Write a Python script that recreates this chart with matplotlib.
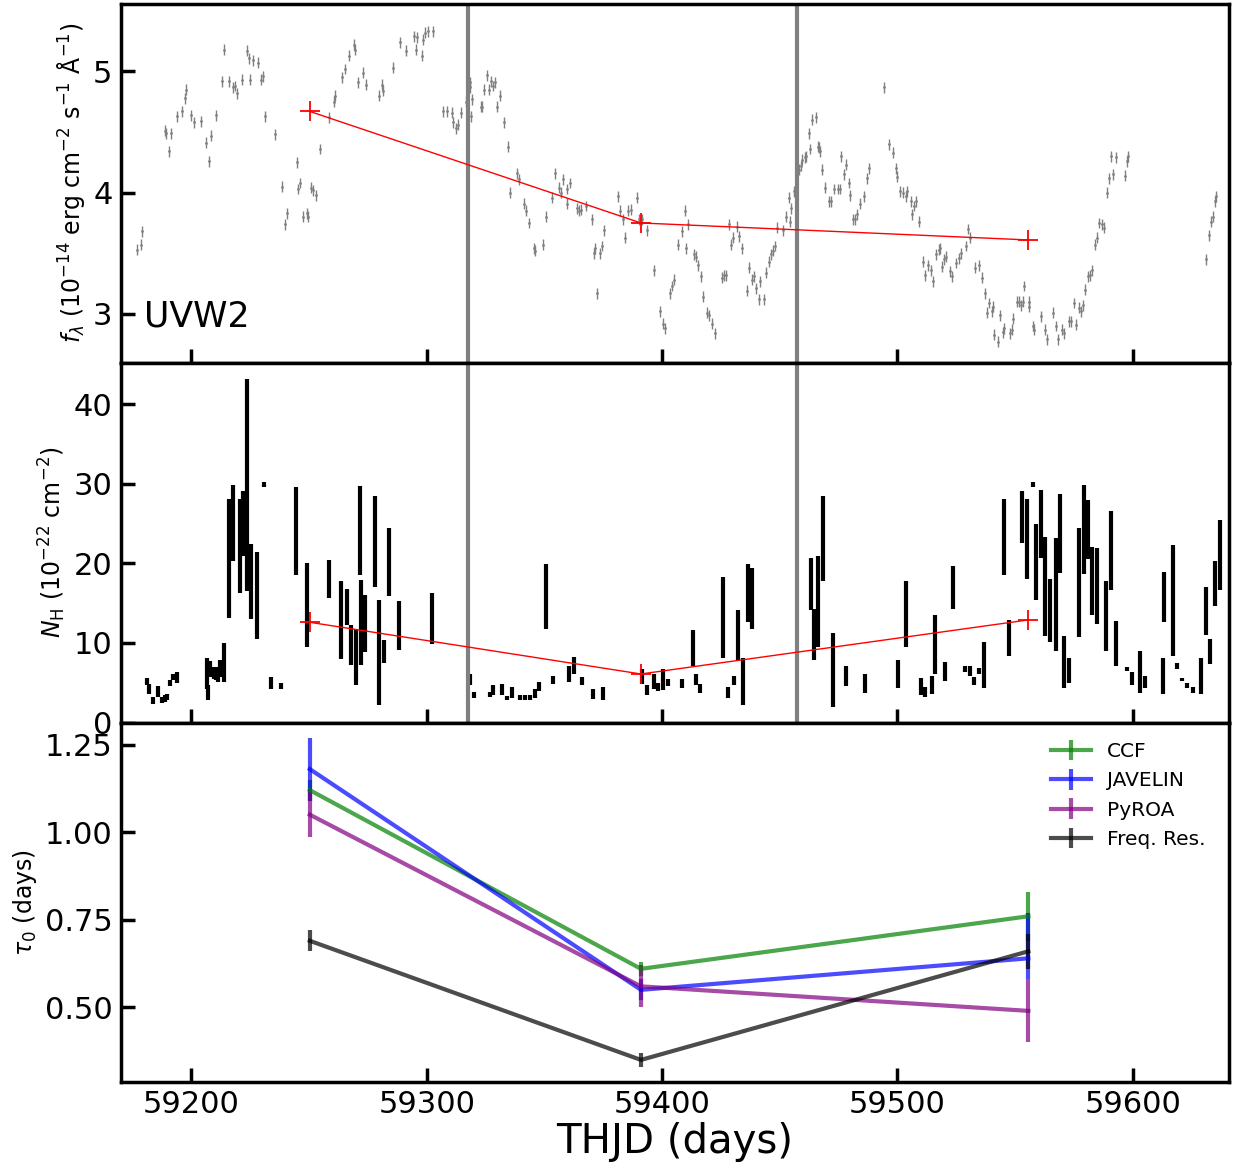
import numpy as np
import matplotlib
matplotlib.use('Agg')
import matplotlib.pyplot as plt

# ---------------------------------------
# UVW2 light curve (THJD, flux)
# ---------------------------------------
uv_t = [59176.7, 59178.5, 59178.9, 59188.7, 59189.4, 59190.5, 59191.5, 59193.9, 59196.1, 59197.2,
        59197.9, 59199.8, 59201.0, 59204.0, 59206.4, 59207.3, 59208.5, 59210.5, 59212.8, 59213.9,
        59215.8, 59217.7, 59218.7, 59219.3, 59221.6, 59223.4, 59224.4, 59224.8, 59226.3, 59228.4,
        59229.4, 59230.5, 59231.3, 59235.5, 59238.6, 59239.7, 59240.4, 59244.7, 59245.4, 59246.1,
        59247.5, 59248.9, 59249.6, 59250.8, 59251.8, 59252.9, 59254.7, 59258.4, 59260.7, 59261.0,
        59263.8, 59265.2, 59267.1, 59269.2, 59269.7, 59270.6, 59273.0, 59274.1, 59279.8, 59280.8,
        59281.5, 59285.5, 59288.6, 59291.1, 59294.5, 59295.4, 59296.0, 59297.8, 59298.5, 59299.1,
        59300.6, 59302.8, 59307.0, 59308.4, 59310.8, 59311.3, 59312.3, 59313.1, 59314.4, 59316.5,
        59317.4, 59318.3, 59319.1, 59318.6, 59318.4,
        59322.9, 59323.5, 59324.4, 59325.6, 59326.4, 59327.3, 59328.0, 59329.0, 59329.7, 59331.1,
        59332.9, 59334.6, 59335.4, 59338.5, 59339.3, 59341.2, 59342.3, 59343.6, 59345.4, 59346.0,
        59349.5, 59350.8, 59353.1, 59354.5, 59356.0, 59356.9, 59358.0, 59359.4, 59359.7, 59360.9,
        59363.7, 59364.5, 59365.4, 59367.5, 59370.2, 59370.9, 59371.3, 59372.3, 59373.6, 59374.6,
        59375.2, 59381.1, 59382.3, 59383.5, 59384.4, 59385.7, 59386.6, 59389.3, 59390.2, 59391.3,
        59393.6, 59396.4, 59399.3, 59400.2, 59401.1, 59403.5, 59404.4, 59404.9, 59406.6, 59408.3,
        59409.6, 59410.2, 59411.0, 59413.6, 59414.3, 59415.3, 59416.5, 59417.4, 59419.2, 59419.9,
        59421.1, 59422.3, 59425.6, 59426.2, 59427.3, 59428.3, 59429.4, 59430.3, 59431.8, 59432.7,
        59434.1, 59435.9, 59436.9, 59438.1, 59439.1, 59439.9, 59441.2, 59441.5, 59443.2, 59444.2,
        59445.3, 59446.2, 59447.0, 59448.0, 59448.8, 59451.5, 59452.5, 59453.9, 59454.4, 59454.9,
        59456.1, 59458.3, 59458.8, 59459.3, 59460.5, 59461.0, 59462.3, 59462.7, 59463.7, 59465.3,
        59466.3, 59466.8,
        59467.2, 59468.1, 59469.4, 59471.0, 59471.8, 59473.0, 59474.9, 59475.4, 59475.9, 59477.1,
        59478.1, 59479.2, 59479.9, 59481.3, 59482.0, 59482.7, 59484.0, 59485.9, 59487.0, 59487.8,
        59494.2, 59496.6, 59498.0, 59499.2, 59499.9, 59501.2, 59502.2, 59503.6, 59504.0, 59505.7,
        59506.0, 59507.2, 59507.8, 59509.0, 59510.8, 59511.8, 59512.9, 59514.3, 59514.9, 59516.2,
        59517.5, 59518.0, 59519.0, 59519.7, 59520.6, 59522.4, 59523.1, 59524.8, 59526.0, 59527.1,
        59529.1, 59529.9, 59530.9, 59533.0, 59534.6, 59535.9, 59537.0, 59538.0, 59539.0, 59540.0,
        59540.8, 59541.0, 59542.8, 59543.5, 59544.7, 59545.4, 59547.9, 59548.6, 59549.2, 59550.6,
        59551.5, 59552.5, 59553.2, 59553.9, 59555.7, 59555.9, 59557.7, 59558.0, 59560.8, 59562.8,
        59563.6, 59565.9, 59567.5, 59568.3, 59569.9, 59570.6, 59572.9, 59573.9, 59575.8, 59574.8,
        59577.1, 59577.8, 59578.8, 59579.8, 59581.1, 59581.9, 59582.8, 59583.8, 59584.8, 59585.7,
        59586.9, 59587.7, 59588.9, 59589.7, 59590.8, 59591.6, 59592.7, 59596.8, 59597.5, 59597.9,
        59631.2, 59632.2, 59633.1, 59633.9, 59634.9, 59635.3]
uv_f = [3.53, 3.57, 3.68, 4.51, 4.49, 4.34, 4.49, 4.63, 4.67, 4.78,
        4.85, 4.64, 4.58, 4.59, 4.41, 4.26, 4.47, 4.64, 4.92, 5.18,
        4.92, 4.87, 4.88, 4.82, 4.93, 5.17, 5.11, 4.93, 5.09, 5.07,
        4.93, 4.96, 4.63, 4.48, 4.05, 3.74, 3.83, 4.25, 4.03, 4.08,
        3.80, 3.83, 3.80, 4.04, 4.02, 3.98, 4.36, 4.62, 4.75, 4.80,
        4.95, 5.02, 5.13, 5.22, 5.18, 4.91, 4.99, 4.89, 4.80, 4.89,
        4.84, 5.03, 5.24, 5.17, 5.29, 5.18, 5.28, 5.13, 5.26, 5.32,
        5.33, 5.33, 4.67, 4.67, 4.66, 4.58, 4.53, 4.56, 4.66, 4.75,
        4.77, 4.87, 4.77, 4.63, 4.91,
        4.71, 4.71, 4.85, 4.97, 4.85, 4.92, 4.88, 4.91, 4.71, 4.80,
        4.58, 4.38, 4.00, 4.16, 4.11, 3.91, 3.85, 3.75, 3.54, 3.52,
        3.57, 3.80, 3.96, 4.16, 4.04, 4.00, 4.11, 4.03, 3.91, 4.08,
        3.87, 3.85, 3.86, 3.89, 3.78, 3.50, 3.54, 3.17, 3.50, 3.56,
        3.69, 3.97, 3.85, 3.78, 3.63, 3.85, 3.86, 3.96, 3.78, 3.78,
        3.69, 3.36, 3.02, 2.92, 2.88, 3.17, 3.23, 3.28, 3.57, 3.68,
        3.85, 3.54, 3.74, 3.49, 3.47, 3.40, 3.31, 3.14, 3.01, 2.99,
        2.92, 2.84, 3.30, 3.32, 3.32, 3.74, 3.57, 3.63, 3.72, 3.64,
        3.54, 3.19, 3.38, 3.28, 3.31, 3.21, 3.12, 3.27, 3.12, 3.34,
        3.43, 3.49, 3.52, 3.56, 3.71, 3.69, 3.80, 3.96, 3.76, 3.87,
        4.01, 4.19, 4.22, 4.27, 4.29, 4.30, 4.49, 4.36, 4.60, 4.62,
        4.38, 4.37,
        4.34, 4.19, 4.04, 3.93, 3.93, 4.03, 4.03, 4.03, 4.30, 4.15,
        4.23, 4.08, 3.98, 3.78, 3.78, 3.82, 3.91, 3.97, 4.12, 4.20,
        4.87, 4.40, 4.33, 4.20, 4.13, 4.01, 4.00, 3.97, 4.01, 3.93,
        3.82, 3.89, 3.93, 3.76, 3.43, 3.32, 3.40, 3.36, 3.27, 3.49,
        3.53, 3.54, 3.39, 3.45, 3.47, 3.35, 3.31, 3.42, 3.46, 3.50,
        3.56, 3.70, 3.63, 3.38, 3.40, 3.30, 3.17, 3.01, 3.09, 3.02,
        3.06, 2.83, 2.77, 2.99, 2.85, 2.88, 2.84, 2.87, 2.96, 3.10,
        3.10, 3.07, 3.10, 3.23, 3.10, 3.06, 2.90, 2.87, 2.98, 2.87,
        2.79, 3.01, 2.90, 2.79, 2.87, 2.84, 2.94, 2.94, 2.91, 3.09,
        3.05, 3.02, 3.07, 3.20, 3.31, 3.32, 3.36, 3.57, 3.63, 3.75,
        3.74, 3.71, 4.00, 4.12, 4.30, 4.15, 4.29, 4.14, 4.26, 4.30,
        3.45, 3.65, 3.76, 3.80, 3.93, 3.97]
uv_err = 0.045

# ---------------------------------------
# Column density N_H (THJD, value, error)
# ---------------------------------------
nh_t = [59181.2, 59181.9, 59183.7, 59185.9, 59187.7, 59188.7, 59189.7, 59190.8, 59192.0, 59193.9,
        59206.7, 59207.1, 59208.1, 59209.5, 59210.4, 59211.4, 59212.1, 59213.8, 59216.1, 59217.8,
        59220.6, 59221.7, 59223.7, 59225.3, 59227.7, 59230.8, 59233.8, 59237.9, 59244.4, 59248.9,
        59258.4, 59263.7, 59265.9, 59268.0, 59269.9, 59271.6, 59272.0, 59273.7, 59278.0, 59279.8,
        59281.8, 59283.8, 59288.3, 59302.3, 59318.3, 59320.0,
        59326.9, 59328.3, 59331.8, 59333.9, 59336.1, 59339.6, 59341.7, 59343.9, 59346.0, 59347.8,
        59350.5, 59353.8, 59360.4, 59362.4, 59366.1, 59370.8, 59374.7, 59391.3, 59393.7, 59396.6,
        59398.4, 59400.5, 59402.7, 59408.5, 59413.3, 59414.3, 59416.1, 59425.8, 59428.2, 59430.6,
        59432.3, 59434.4, 59436.4, 59438.2, 59463.2, 59464.6, 59466.4,
        59468.3, 59472.5, 59478.2, 59486.4, 59500.3, 59503.8, 59509.9, 59511.8, 59514.5, 59516.0,
        59520.3, 59523.8, 59528.8, 59530.9, 59532.6, 59534.7, 59536.6, 59545.1, 59547.2, 59552.9,
        59555.0, 59557.4, 59559.0, 59561.0, 59562.9, 59564.9, 59567.2, 59568.9, 59570.9, 59572.7,
        59577.2, 59579.1, 59580.9, 59582.8, 59584.8, 59588.7, 59590.7, 59592.8, 59597.5, 59599.6,
        59603.2, 59605.3, 59612.7, 59613.1, 59616.9, 59618.8, 59620.9, 59623.0, 59625.4, 59629.1,
        59631.1, 59632.9, 59634.8, 59637.2]
nh_v = [5.19, 4.26, 2.78, 3.88, 2.85, 3.00, 3.21, 4.96, 5.68, 5.70,
        6.20, 3.78, 6.73, 6.27, 6.06, 6.06, 6.79, 7.57, 20.65, 25.11,
        22.19, 25.04, 29.85, 17.72, 15.97, 29.94, 4.96, 4.60, 24.05, 14.77,
        18.04, 12.87, 14.56, 9.75, 8.16, 24.16, 12.60, 12.45, 22.76, 8.80,
        8.90, 20.15, 12.17, 13.06, 5.42, 3.48,
        3.52, 4.05, 4.12, 3.08, 3.78, 3.14, 3.10, 3.14, 3.65, 4.54,
        15.82, 5.36, 6.10, 7.17, 5.25, 3.63, 3.67, 5.84, 4.05, 5.17,
        4.45, 5.46, 5.02, 4.94, 9.37, 5.42, 4.30, 13.19, 3.78, 5.27,
        11.01, 5.19, 16.24, 15.55, 17.41, 11.08, 15.23,
        23.19, 6.58, 5.82, 4.96, 6.10, 13.65, 4.56, 3.84, 4.72, 9.75,
        6.37, 16.96, 6.73, 6.46, 5.25, 6.48, 7.26, 23.35, 10.59, 25.84,
        23.08, 29.94, 20.19, 25.00, 17.13, 14.11, 16.10, 23.78, 7.64, 6.58,
        17.62, 24.30, 24.28, 17.79, 17.19, 13.42, 21.62, 9.92, 6.75, 5.53,
        6.35, 5.11, 5.80, 15.78, 15.34, 7.09, 5.44, 4.70, 4.09, 5.85,
        14.03, 8.90, 17.45, 21.03]
nh_e = [0.42, 0.63, 0.42, 0.68, 0.36, 0.42, 0.42, 0.36, 0.36, 0.68,
        1.94, 0.91, 0.99, 0.74, 0.74, 0.95, 1.05, 2.47, 7.45, 4.81,
        5.91, 4.11, 13.36, 4.68, 5.46, 0.27, 0.78, 0.42, 5.53, 5.23,
        2.38, 4.89, 2.28, 2.53, 3.48, 5.63, 5.38, 3.54, 5.76, 6.65,
        1.48, 4.28, 3.06, 3.19, 0.74, 0.36,
        0.32, 0.63, 0.70, 0.21, 0.70, 0.27, 0.32, 0.36, 0.53, 0.57,
        4.05, 0.46, 0.99, 1.10, 0.49, 0.63, 0.80, 0.95, 0.63, 0.91,
        0.53, 1.33, 0.42, 0.59, 2.28, 0.74, 0.59, 5.13, 0.70, 0.59,
        3.16, 2.95, 3.63, 3.82, 3.23, 3.23, 5.70,
        5.34, 4.64, 1.27, 1.20, 1.75, 4.11, 1.05, 0.63, 1.10, 3.71,
        1.18, 2.70, 0.36, 0.63, 0.49, 0.40, 2.91, 4.75, 2.24, 3.23,
        5.02, 0.27, 4.75, 4.28, 6.20, 3.95, 7.07, 4.96, 3.29, 1.56,
        6.81, 5.61, 3.69, 4.32, 4.79, 4.43, 5.00, 2.78, 0.25, 0.84,
        2.64, 0.76, 2.26, 3.16, 6.98, 0.42, 0.21, 0.32, 0.38, 2.22,
        3.02, 1.60, 2.85, 4.41]

# ---------------------------------------
# Epoch averages and lags
# ---------------------------------------
epochs = [59250.3, 59391.0, 59555.6]
flux_mean = [4.67, 3.75, 3.61]
nh_mean = [12.6, 6.1, 12.9]
vlines = [59317.5, 59457.4]

lag_names = ['CCF', 'JAVELIN', 'PyROA', 'Freq. Res.']
lag_colors = ['green', 'blue', 'purple', 'black']
lag_vals = [[1.12, 0.61, 0.76],
            [1.18, 0.55, 0.64],
            [1.05, 0.56, 0.49],
            [0.69, 0.35, 0.66]]
lag_lo = [[0.03, 0.02, 0.07],
          [0.09, 0.03, 0.06],
          [0.065, 0.06, 0.09],
          [0.03, 0.02, 0.05]]
lag_hi = [[0.03, 0.02, 0.07],
          [0.09, 0.03, 0.13],
          [0.065, 0.06, 0.09],
          [0.03, 0.02, 0.05]]

#---------------------------------------
# Plot
#---------------------------------------
fig, axs = plt.subplots(3, 1, figsize=(12.33, 11.71), dpi=100, sharex=True)
plt.subplots_adjust(left=0.098, right=0.997, top=0.997, bottom=0.076, hspace=0.0)

ax1, ax2, ax3 = axs

ax1.errorbar(uv_t, uv_f, yerr=uv_err, fmt='.', color='gray', ms=2, elinewidth=1, zorder=1)
ax1.plot(epochs, flux_mean, color='red', marker='+', ms=15, mew=1.3, lw=1, zorder=3)
ax1.text(59180, 2.9, 'UVW2', fontsize=25)
ax1.set_ylim(2.595, 5.56)
ax1.set_yticks([3, 4, 5])
ax1.set_ylabel(r'$f_\lambda$ (10$^{-14}$ erg cm$^{-2}$ s$^{-1}$ Å$^{-1}$)', fontsize=17)

ax2.errorbar(nh_t, nh_v, yerr=nh_e, fmt='none', ecolor='black', elinewidth=3, zorder=1)
ax2.plot(epochs, nh_mean, color='red', marker='+', ms=15, mew=1.3, lw=1, zorder=3)
ax2.set_ylim(0, 45.2)
ax2.set_yticks([0, 10, 20, 30, 40])
ax2.set_ylabel(r'$N_{\rm H}$ (10$^{-22}$ cm$^{-2}$)', fontsize=17)

for ax in (ax1, ax2):
    for v in vlines:
        ax.axvline(v, color='gray', lw=3, zorder=2)

for name, col, v, lo, hi in zip(lag_names, lag_colors, lag_vals, lag_lo, lag_hi):
    ax3.errorbar(epochs, v, yerr=[lo, hi], color=col, lw=3, elinewidth=3, alpha=0.7, label=name)
ax3.set_ylim(0.287, 1.313)
ax3.set_yticks([0.5, 0.75, 1.0, 1.25])
ax3.set_yticklabels(['0.50', '0.75', '1.00', '1.25'])
ax3.set_ylabel(r'$\tau_0$ (days)', fontsize=17)
ax3.legend(loc='upper right', fontsize=14.5, frameon=False, bbox_to_anchor=(0.995, 0.995))
ax3.set_xlabel('THJD (days)', fontsize=29, labelpad=2)

ax3.set_xlim(59170, 59641)
ax3.set_xticks([59200, 59300, 59400, 59500, 59600])

for ax in axs:
    ax.tick_params(direction='in', length=10, width=2.5, labelsize=22, pad=6)
    for s in ax.spines.values():
        s.set_linewidth(2.5)

fig.savefig('out.png', dpi=100)
